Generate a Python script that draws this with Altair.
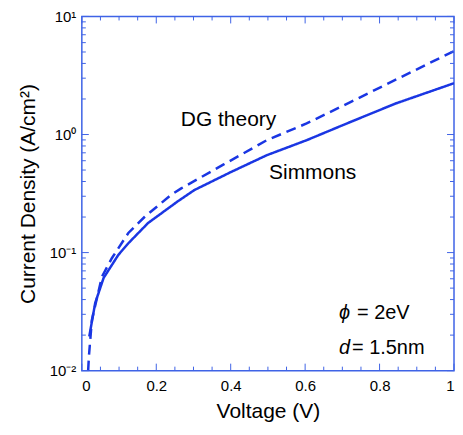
import altair as alt
import pandas as pd

# Simmons (solid)
sim_v = [0.020, 0.036, 0.0585, 0.098, 0.125, 0.178, 0.258, 0.302, 0.40, 0.497, 0.604, 0.72, 0.843, 1.0]
sim_j = [0.0195, 0.0375, 0.061, 0.0955, 0.12, 0.178, 0.272, 0.338, 0.48, 0.668, 0.895, 1.27, 1.83, 2.72]
# DG theory (dashed)
dg_v = [0.017, 0.019, 0.027, 0.054, 0.081, 0.125, 0.169, 0.239, 0.267, 0.38, 0.497, 0.604, 0.723, 0.85, 1.0]
dg_j = [0.01, 0.0132, 0.0269, 0.0625, 0.09, 0.1466, 0.201, 0.307, 0.35, 0.555, 0.895, 1.24, 1.89, 2.98, 5.09]

x_major = [0.0, 0.2, 0.4, 0.6, 0.8, 1.0]
x_minor = [0.05, 0.1, 0.15, 0.25, 0.3, 0.35, 0.45, 0.5, 0.55, 0.65, 0.7, 0.75, 0.85, 0.9, 0.95]
y_major = [0.01, 0.1, 1, 10]
y_minor = [0.02, 0.03, 0.04, 0.05, 0.06, 0.07, 0.08, 0.09,
           0.2, 0.3, 0.4, 0.5, 0.6, 0.7, 0.8, 0.9,
           2, 3, 4, 5, 6, 7, 8, 9]

W, H = 373, 355
LINE = "#1a36e3"
FRAME = "#3f63e6"
FONT = "Liberation Sans"

df = pd.concat([
    pd.DataFrame({"V": sim_v, "J": sim_j, "s": "Simmons"}),
    pd.DataFrame({"V": dg_v, "J": dg_j, "s": "DG theory"}),
])

xs = alt.Scale(domain=[0, 1], nice=False)
ys = alt.Scale(type="log", domain=[0.01, 10], nice=False)

xax = alt.Axis(values=x_major, ticks=False, domain=False, grid=False,
               labelFont=FONT, labelFontSize=15, labelColor="black", labelPadding=8,
               title="Voltage (V)", titleFont=FONT, titleFontSize=21, titleFontWeight="normal",
               titlePadding=7, labelExpr="datum.value == 0 ? '0' : datum.value == 1 ? '1' : format(datum.value, '.1f')")
yax = alt.Axis(values=y_major, ticks=False, domain=False, grid=False,
               labelFont=FONT, labelFontSize=15, labelColor="black", labelPadding=6,
               labelExpr="datum.value == 0.01 ? '10⁻²' : datum.value == 0.1 ? '10⁻¹' : datum.value == 1 ? '10⁰' : '10¹'",
               title="Current Density (A/cm²)", titleFont=FONT, titleFontSize=21, titleFontWeight="normal",
               titlePadding=11)

lines = alt.Chart(df).mark_line(strokeWidth=2.5, clip=True).encode(
    x=alt.X("V:Q", scale=xs, axis=xax),
    y=alt.Y("J:Q", scale=ys, axis=yax),
    color=alt.Color("s:N", scale=alt.Scale(domain=["Simmons", "DG theory"], range=[LINE, LINE]), legend=None),
    strokeDash=alt.StrokeDash("s:N", scale=alt.Scale(domain=["Simmons", "DG theory"], range=[[1, 0], [10, 6]]), legend=None),
    detail="s:N",
)

def xticks(vals, L):
    d = pd.DataFrame({"v": vals})
    b = alt.Chart(d).mark_rule(color=FRAME, strokeWidth=1).encode(
        x=alt.X("v:Q", scale=xs), y=alt.value(H), y2=alt.value(H - L))
    t = alt.Chart(d).mark_rule(color=FRAME, strokeWidth=1).encode(
        x=alt.X("v:Q", scale=xs), y=alt.value(0), y2=alt.value(L))
    return b + t

def yticks(vals, L):
    d = pd.DataFrame({"v": vals})
    l = alt.Chart(d).mark_rule(color=FRAME, strokeWidth=1).encode(
        y=alt.Y("v:Q", scale=ys), x=alt.value(0), x2=alt.value(L))
    r = alt.Chart(d).mark_rule(color=FRAME, strokeWidth=1).encode(
        y=alt.Y("v:Q", scale=ys), x=alt.value(W), x2=alt.value(W - L))
    return l + r

ann = pd.DataFrame({
    "V": [0.266, 0.503],
    "J": [1.32, 0.471],
    "t": ["DG theory", "Simmons"],
})
labels = alt.Chart(ann).mark_text(align="left", baseline="middle", font=FONT, fontSize=21, color="black").encode(
    x=alt.X("V:Q", scale=xs), y=alt.Y("J:Q", scale=ys), text="t:N")

par = pd.DataFrame({
    "V": [0.691, 0.691],
    "J": [0.0308, 0.0156],
    "sym": ["ϕ", "d"],
    "rest": ["= 2eV", "= 1.5nm"],
})
sym = alt.Chart(par).mark_text(align="left", baseline="middle", font=FONT, fontSize=20,
                               fontStyle="italic", color="black").encode(
    x=alt.X("V:Q", scale=xs), y=alt.Y("J:Q", scale=ys), text="sym:N")
rest1 = alt.Chart(par.iloc[[0]]).mark_text(align="left", baseline="middle", font=FONT, fontSize=20,
                                           color="black", dx=18).encode(
    x=alt.X("V:Q", scale=xs), y=alt.Y("J:Q", scale=ys), text="rest:N")
rest2 = alt.Chart(par.iloc[[1]]).mark_text(align="left", baseline="middle", font=FONT, fontSize=20,
                                           color="black", dx=13).encode(
    x=alt.X("V:Q", scale=xs), y=alt.Y("J:Q", scale=ys), text="rest:N")

chart = alt.layer(
    lines,
    xticks(x_major, 7), xticks(x_minor, 4),
    yticks(y_major, 7), yticks(y_minor, 4),
    labels, sym, rest1, rest2,
).properties(
    width=W, height=H,
    autosize="none",
    padding={"left": 74, "top": 8, "right": 1, "bottom": 53},
).configure_view(stroke=FRAME, strokeWidth=1.5)

chart.save("out.html", embed_options={"renderer": "svg", "actions": False})
